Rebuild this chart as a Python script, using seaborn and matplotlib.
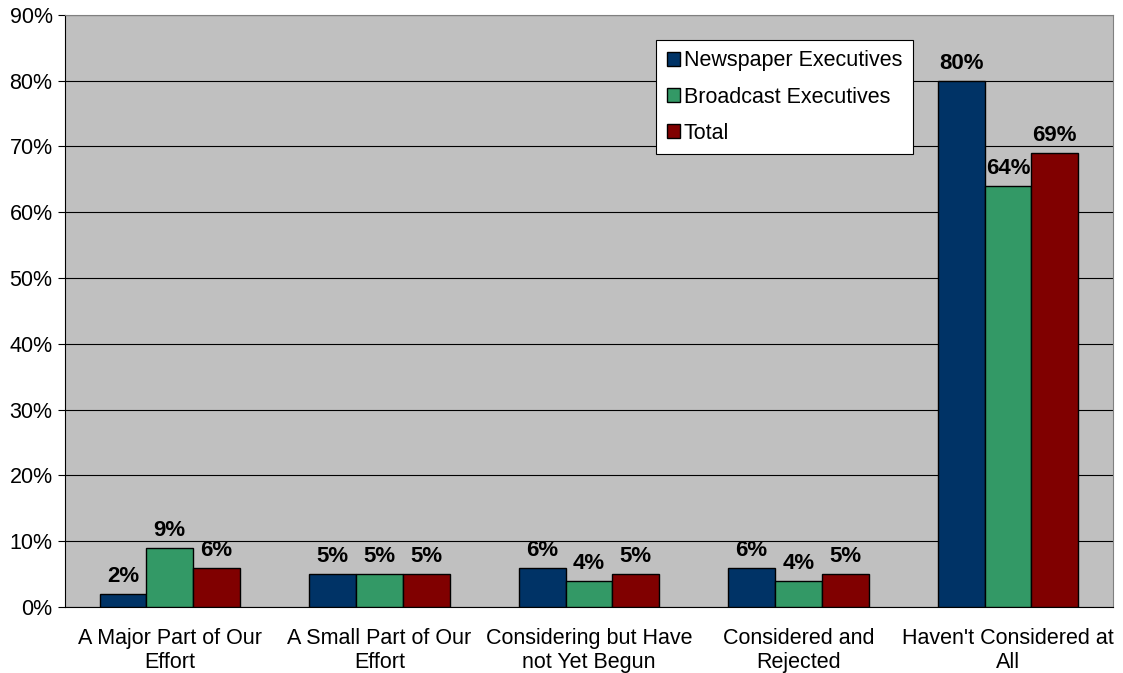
import pandas as pd
import matplotlib
matplotlib.use('Agg')
import matplotlib.pyplot as plt
import seaborn as sns
from matplotlib.ticker import FuncFormatter, MultipleLocator

categories = ['A Major Part of Our\nEffort', 'A Small Part of Our\nEffort',
              'Considering but Have\nnot Yet Begun', 'Considered and\nRejected',
              "Haven't Considered at\nAll"]
series = ['Newspaper Executives', 'Broadcast Executives', 'Total']
newspaper = [2, 5, 6, 6, 80]
broadcast = [9, 5, 4, 4, 64]
total = [6, 5, 5, 5, 69]
colors = ['#003366', '#339966', '#800000']


def build_frame():
    rows = []
    for name, vals in zip(series, [newspaper, broadcast, total]):
        for cat, v in zip(categories, vals):
            rows.append({'Category': cat, 'Group': name, 'Value': v})
    return pd.DataFrame(rows)


def main():
    df = build_frame()
    sns.set_style('white')
    plt.rcParams['font.family'] = ['Liberation Sans', 'DejaVu Sans']
    plt.rcParams['text.color'] = 'black'
    plt.rcParams['xtick.color'] = 'black'
    plt.rcParams['ytick.color'] = 'black'

    fig = plt.figure(figsize=(11.23, 6.73), dpi=100)
    ax = fig.add_axes([0.0579, 0.098, 0.933, 0.88])
    ax.set_facecolor('#C0C0C0')

    sns.barplot(data=df, x='Category', y='Value', hue='Group', palette=colors,
                width=0.67, edgecolor='black', linewidth=1, saturation=1,
                ax=ax, zorder=3)

    for cont in ax.containers:
        ax.bar_label(cont, fmt='%.0f%%', padding=5, fontsize=16, fontweight='bold')

    ax.set_ylim(0, 90)
    ax.set_xlim(-0.5, 4.5)
    ax.yaxis.set_major_locator(MultipleLocator(10))
    ax.yaxis.set_major_formatter(FuncFormatter(lambda v, p: f'{v:.0f}%'))
    ax.grid(axis='y', color='black', linewidth=0.8, zorder=0)
    ax.set_axisbelow(True)
    ax.set_xlabel('')
    ax.set_ylabel('')

    for side in ['top', 'right']:
        ax.spines[side].set_color('#808080')
        ax.spines[side].set_linewidth(0.8)
    for side in ['left', 'bottom']:
        ax.spines[side].set_color('black')
        ax.spines[side].set_linewidth(0.8)

    ax.set_xticks([x + 0.5 for x in range(4)], minor=True)
    ax.tick_params(axis='x', which='major', length=0, labelsize=15.5, pad=15)
    ax.tick_params(axis='x', which='minor', length=6, direction='out', color='black')
    ax.tick_params(axis='y', length=5, direction='out', labelsize=15.5, color='black',
                   left=True, pad=4)

    handles, labels = ax.get_legend_handles_labels()
    leg = ax.legend(handles, labels, loc='upper left', bbox_to_anchor=(0.564, 0.958),
                    fontsize=15.5, frameon=True, fancybox=False, framealpha=1,
                    edgecolor='black', handlelength=0.6, handleheight=0.6,
                    handletextpad=0.2, labelspacing=0.7, borderpad=0.5,
                    borderaxespad=0)
    leg.get_frame().set_linewidth(0.8)

    fig.savefig('out.png', dpi=100)


if __name__ == '__main__':
    main()
